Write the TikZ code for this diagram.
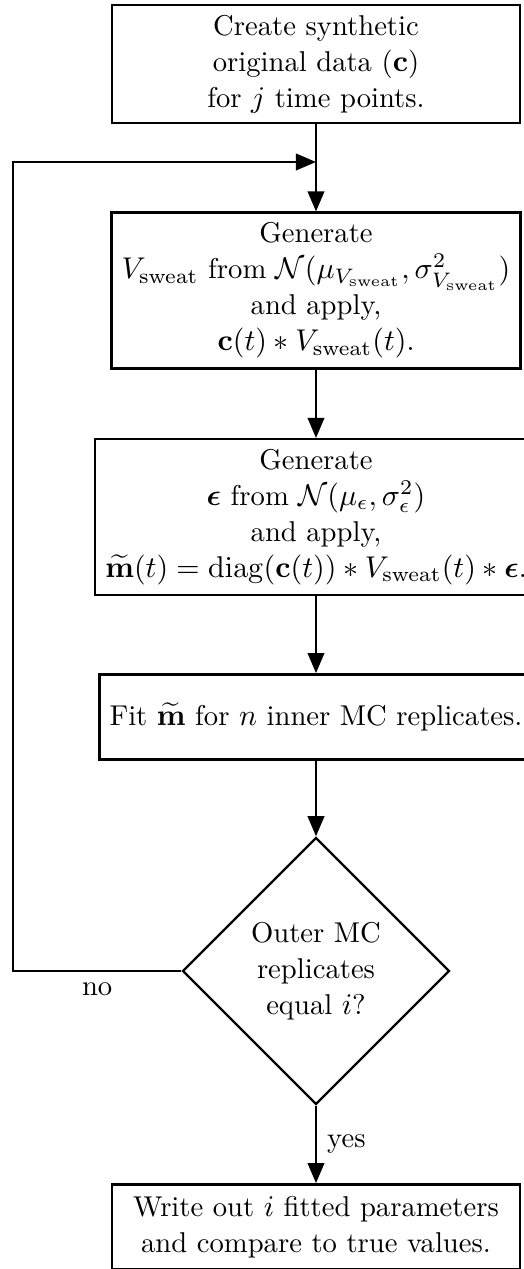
\documentclass[tikz,border=0pt]{standalone}
\usepackage{amsmath,bm}
\usetikzlibrary{arrows.meta,shapes.geometric}
\begin{document}
\begin{tikzpicture}[x=0.33333pt,y=-0.33333pt,
  font=\fontsize{9.55}{12}\selectfont,
  box/.style={draw,thick,align=center,minimum width=136pt,minimum height=1cm,inner sep=3.33pt},
  dec/.style={draw,thick,diamond,aspect=1,align=center,minimum size=89pt,inner sep=1pt},
  arr/.style={thick,-{Triangle[length=6.7pt,width=5.5pt]}}]
\useasboundingbox (0,0) rectangle (523,1269);
\node[box] (b1) at (316,64) {Create synthetic\\original data ($\mathbf{c}$)\\for $j$ time points.};
\node[box] (b2) at (316,290.5) {Generate\\$V_{\mathrm{sweat}}$ from $\mathcal{N}(\mu_{V_{\mathrm{sweat}}},\sigma^2_{V_{\mathrm{sweat}}})$\\and apply,\\$\mathbf{c}(t)\ast V_{\mathrm{sweat}}(t)$.};
\node[box] (b3) at (316,517) {Generate\\$\bm{\epsilon}$ from $\mathcal{N}(\mu_{\epsilon},\sigma^2_{\epsilon})$\\and apply,\\$\widetilde{\mathbf{m}}(t)=\mathrm{diag}(\mathbf{c}(t))\ast V_{\mathrm{sweat}}(t)\ast\bm{\epsilon}$.};
\node[box] (b4) at (316,717) {Fit $\widetilde{\mathbf{m}}$ for $n$ inner MC replicates.};
\node[dec] (d) at (316,971) {Outer MC\\replicates\\equal $i$?};
\node[box] (b5) at (316,1227) {Write out $i$ fitted parameters\\and compare to true values.};
\coordinate (j) at (316,162);
\coordinate (lft) at (13,971);
\draw[arr] (b1.south) -- (b2.north);
\draw[arr] (b2.south) -- (b3.north);
\draw[arr] (b3.south) -- (b4.north);
\draw[arr] (b4.south) -- (d.north);
\draw[arr] (d.south) -- node[right]{yes} (b5.north);
\draw[arr] (d.west) -- node[below]{no} (lft) |- (j);
\end{tikzpicture}
\end{document}
